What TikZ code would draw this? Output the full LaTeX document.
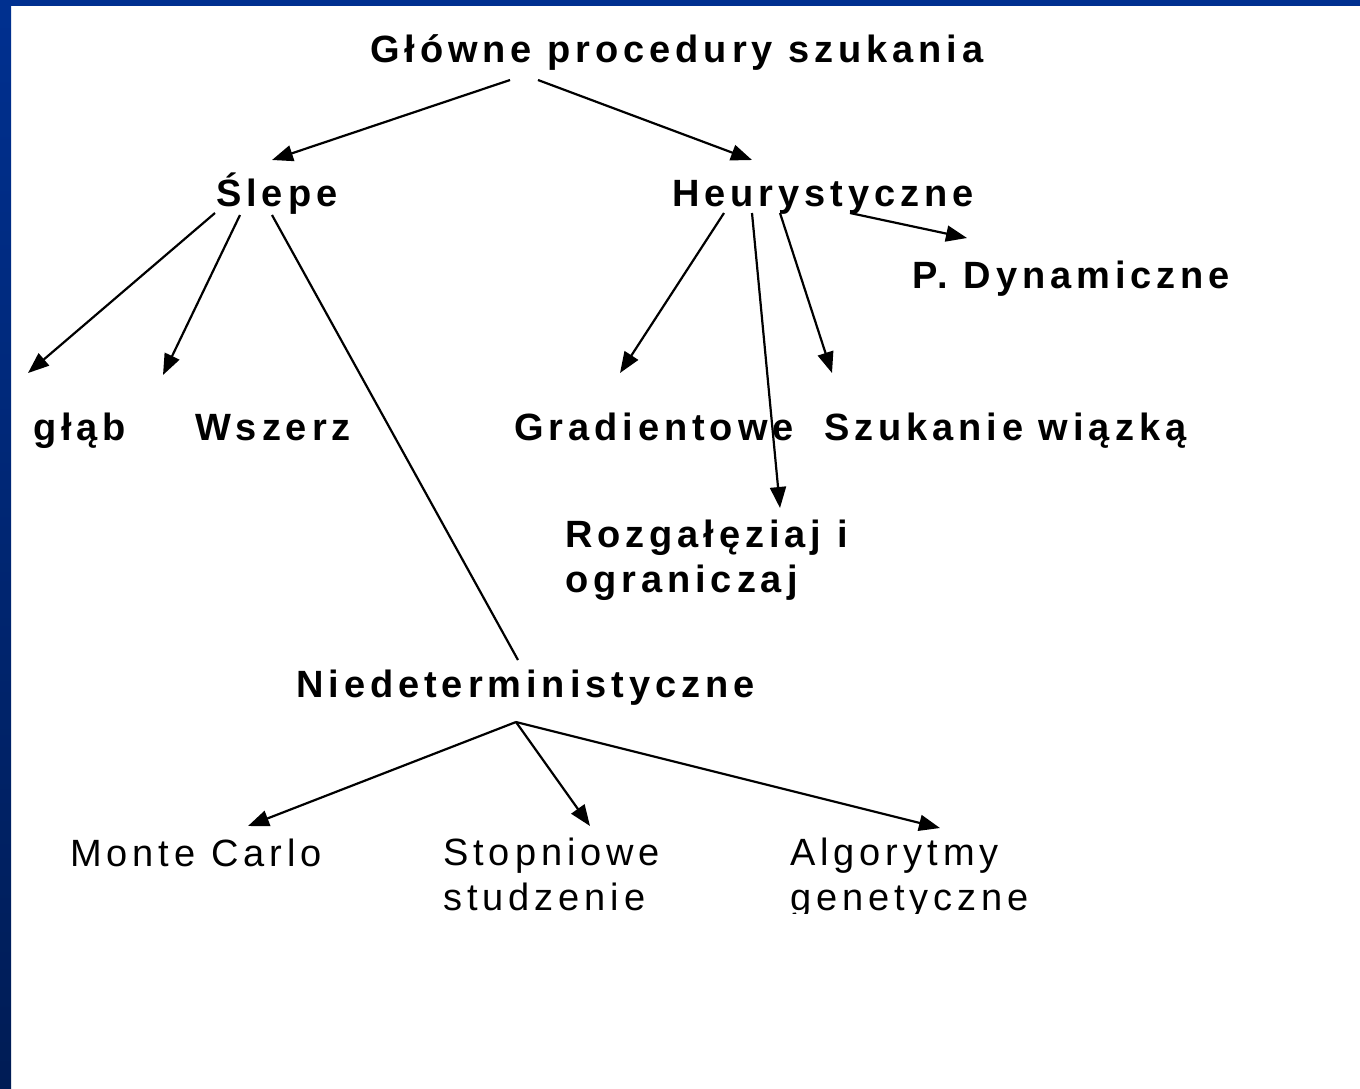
\documentclass[tikz,border=0pt]{standalone}
\usepackage{fontspec}
\setmainfont{Liberation Sans}[LetterSpace=13]
\usetikzlibrary{arrows.meta}

\definecolor{frametop}{HTML}{003090}
\definecolor{framebot}{HTML}{001C55}

\tikzset{
  topic/.style={font=\fontsize{38}{45}\selectfont\bfseries, inner sep=0pt, anchor=base west, align=left},
  method/.style={font=\fontsize{38}{45}\selectfont, inner sep=0pt, anchor=base west, align=left},
  arr/.style={-{Triangle[length=21pt,width=16pt]}, line width=2.2pt},
  link/.style={line width=2.2pt},
}

\begin{document}
\begin{tikzpicture}[x=1pt,y=-1pt]
  \useasboundingbox (0,0) rectangle (1360,1088);
  \fill[white] (0,0) rectangle (1360,1088);
  % frame
  \shade[top color=frametop, bottom color=framebot] (0,0) rectangle (11,1088);
  \fill[frametop] (0,0) rectangle (1360,6);

  \begin{scope}
    \clip (11,6) rectangle (1360,913);

    % levels (multi-line nodes sit on their last baseline)
    \node[topic] (glowne) at (370,62) {Główne procedury szukania};
    \node[topic] (slepe) at (216,206) {Ślepe};
    \node[topic] (heur) at (672,206) {Heurystyczne};
    \node[topic] (pdyn) at (912,288) {P. Dynamiczne};
    \node[topic] (glab) at (33,440) {głąb};
    \node[topic] (wszerz) at (195,440) {Wszerz};
    \node[topic] (grad) at (514,440) {Gradientowe};
    \node[topic] (szuk) at (824,440) {Szukanie wiązką};
    \node[topic] (rozg) at (565,592) {Rozgałęziaj i\\ograniczaj};
    \node[topic] (niedet) at (296,697) {Niedeterministyczne};
    \node[method] (monte) at (70,866) {Monte Carlo};
    \node[method] (stop) at (443,910) {Stopniowe\\studzenie};
    \node[method] (algo) at (790,910) {Algorytmy\\genetyczne};

    % connectors
    \draw[arr] ([shift={(140,18)}]glowne.base west) -- ([shift={(56,-46)}]slepe.base west);
    \draw[arr] ([shift={(168,18)}]glowne.base west) -- ([shift={(80,-46)}]heur.base west);

    \draw[arr] ([shift={(-1,7)}]slepe.base west) -- ([shift={(-5,-67)}]glab.base west);
    \draw[arr] ([shift={(24,9)}]slepe.base west) -- ([shift={(-32,-65)}]wszerz.base west);
    \draw[link] ([shift={(56,9)}]slepe.base west) -- ([shift={(222,-37)}]niedet.base west);

    \draw[arr] ([shift={(52,7)}]heur.base west) -- ([shift={(106,-67)}]grad.base west);
    \draw[arr] ([shift={(80,7)}]heur.base west) -- ([shift={(215,-84)}]rozg.base west);
    \draw[arr] ([shift={(108,7)}]heur.base west) -- ([shift={(8,-67)}]szuk.base west);
    \draw[arr] ([shift={(178,7)}]heur.base west) -- ([shift={(55,-50)}]pdyn.base west);

    \draw[arr] ([shift={(220,25)}]niedet.base west) -- ([shift={(178,-40)}]monte.base west);
    \draw[arr] ([shift={(220,25)}]niedet.base west) -- ([shift={(147,-84)}]stop.base west);
    \draw[arr] ([shift={(220,25)}]niedet.base west) -- ([shift={(150,-82)}]algo.base west);
  \end{scope}
\end{tikzpicture}
\end{document}
